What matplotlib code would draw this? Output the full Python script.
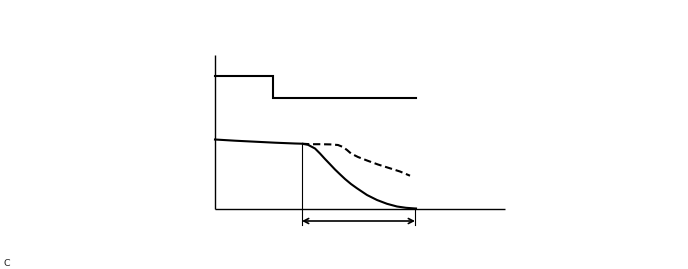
import matplotlib
matplotlib.use("Agg")
import matplotlib.pyplot as plt

# Data (time units, value units)
step_t = [0, 58, 58, 201]
step_v = [133, 133, 111, 111]

solid_t = [0, 20, 40, 60, 80, 87, 93, 100, 105, 110, 115, 120, 125, 130, 136, 142,
           152, 162, 172, 182, 191, 199, 201]
solid_v = [69.5, 68.3, 67.3, 66.3, 65.5, 65.3, 64.2, 60.5, 55.5, 50, 44.8, 39.5, 34.7,
           30, 25, 20.7, 14, 9, 5.2, 2.5, 1.2, 0.6, 0.5]

dash_t = [87, 95, 105, 115, 123, 128, 132, 136, 143, 152, 163, 175, 185, 195]
dash_v = [65.3, 64.8, 64.8, 64.6, 64, 62, 59, 55.5, 52, 48.5, 44.5, 40.7, 37.5, 33.3]

x_axis_end = 290
y_axis_top = 154
marker_t = 87
marker_v = 65.3
end_t = 200
arrow_v = -12
tick_bottom = -16

fig = plt.figure(figsize=(6.88, 2.69), dpi=100)
ax = fig.add_axes([0, 0, 1, 1])
ax.set_xlim(-215, 688 - 215)
ax.set_ylim(209 - 269, 209)
ax.axis("off")

# axes
ax.plot([0, 0], [0, y_axis_top], color="black", lw=1.0, solid_capstyle="butt")
ax.plot([0, x_axis_end], [0, 0], color="black", lw=1.0, solid_capstyle="butt")

# step
ax.plot(step_t, step_v, color="black", lw=1.5, solid_joinstyle="miter")

# curves
ax.plot(solid_t, solid_v, color="black", lw=1.5)
ax.plot(dash_t, dash_v, color="black", lw=1.5, dashes=(3.5, 1.8))

# thin verticals
ax.plot([marker_t, marker_t], [marker_v, tick_bottom], color="black", lw=0.8)
ax.plot([end_t, end_t], [0, tick_bottom], color="black", lw=0.8)

# double arrow
ax.annotate("", xy=(marker_t, arrow_v), xytext=(end_t, arrow_v),
            arrowprops=dict(arrowstyle="<->,head_length=0.35,head_width=0.18",
                            color="black", lw=1.2, shrinkA=0, shrinkB=0))

fig.text(3.5 / 688, 1 - 263 / 269, "C", fontsize=6.8, color="#222222",
         ha="left", va="center")

fig.savefig("out.png", dpi=100)
